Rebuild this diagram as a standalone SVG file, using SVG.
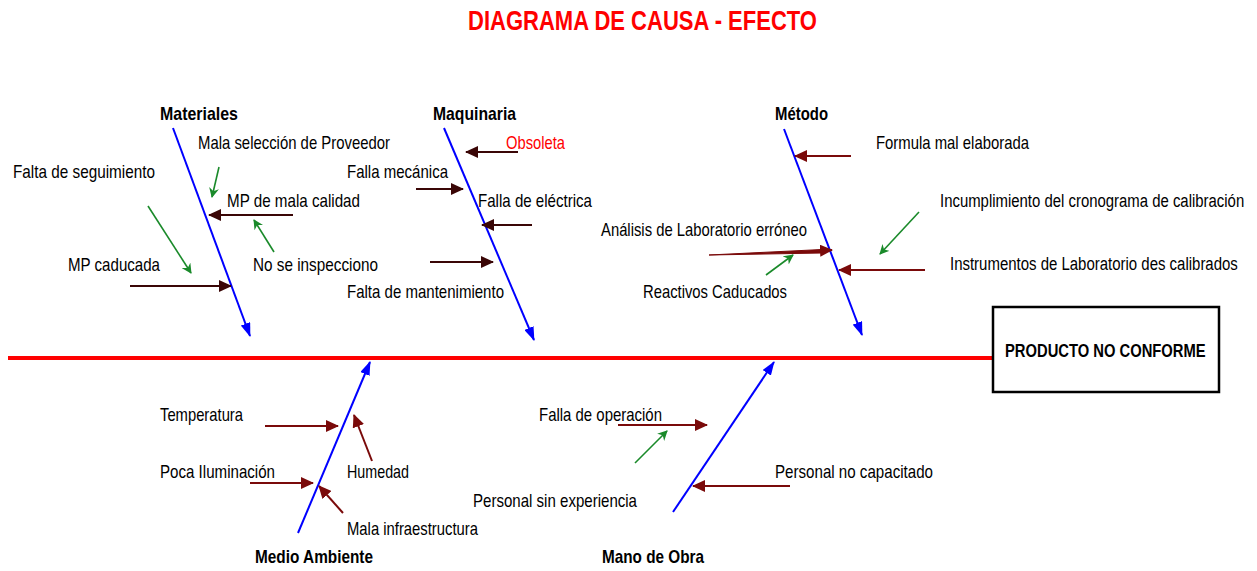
<svg xmlns="http://www.w3.org/2000/svg" width="1257" height="571" viewBox="0 0 1257 571">
<style>
text{font-family:"Liberation Sans",Arial,sans-serif;fill:#000}
.t{font-size:19px}
.b{font-size:19px;font-weight:bold}
.title{font-size:28px;font-weight:bold;fill:#ff0000}
.bone{stroke:#0000ff;stroke-width:2;fill:none;marker-end:url(#mb)}
.dk{stroke:#3a0606;stroke-width:2;fill:none;marker-end:url(#mk)}
.dr{stroke:#7a0a0a;stroke-width:2;fill:none;marker-end:url(#mr)}
.gr{stroke:#1a8a2a;stroke-width:1.6;fill:none;marker-end:url(#mg)}
</style>
<defs>
<marker id="mb" markerUnits="userSpaceOnUse" markerWidth="14" markerHeight="10" refX="13" refY="5" orient="auto"><path d="M0,0 L14,5 L0,10 z" fill="#0000ff"/></marker>
<marker id="mk" markerUnits="userSpaceOnUse" markerWidth="13" markerHeight="12" refX="12" refY="6" orient="auto"><path d="M0,0 L13,6 L0,12 z" fill="#3a0606"/></marker>
<marker id="mr" markerUnits="userSpaceOnUse" markerWidth="13" markerHeight="12" refX="12" refY="6" orient="auto"><path d="M0,0 L13,6 L0,12 z" fill="#7a0a0a"/></marker>
<marker id="mg" markerUnits="userSpaceOnUse" markerWidth="10" markerHeight="10" refX="9" refY="5" orient="auto"><path d="M0,0 L10,5 L0,10 L3,5 z" fill="#1a8a2a"/></marker>
</defs>
<rect width="1257" height="571" fill="#fff"/>
<text class="title" x="468" y="30" textLength="349" lengthAdjust="spacingAndGlyphs">DIAGRAMA DE CAUSA - EFECTO</text>

<g id="connectors">
<line x1="8" y1="358" x2="992" y2="358" stroke="#ff0000" stroke-width="4"/>
<line class="bone" x1="173" y1="128" x2="250" y2="336"/>
<line class="bone" x1="444" y1="128" x2="534" y2="340"/>
<line class="bone" x1="784" y1="129" x2="862" y2="335"/>
<line class="bone" x1="298" y1="533" x2="370" y2="362"/>
<line class="bone" x1="673" y1="512" x2="774" y2="362"/>
<line class="gr" x1="219" y1="167" x2="212" y2="197"/>
<line class="dk" x1="293" y1="215" x2="209" y2="215"/>
<line class="gr" x1="274" y1="252" x2="254" y2="220"/>
<line class="gr" x1="148" y1="206" x2="191" y2="273"/>
<line class="dk" x1="130" y1="286" x2="231" y2="286"/>
<line class="dk" x1="518" y1="152" x2="466" y2="152" stroke-width="3"/>
<line class="dk" x1="416" y1="189" x2="463" y2="189"/>
<line class="dk" x1="532" y1="225" x2="482" y2="225"/>
<line class="dk" x1="430" y1="262" x2="493" y2="262" stroke-width="3"/>
<line class="dr" x1="851" y1="156" x2="795" y2="156"/>
<line class="gr" x1="919" y1="212" x2="880" y2="254"/>
<path d="M709,255 L822,249.5 L822,253 Z" fill="#7a0a0a" stroke="#7a0a0a" stroke-width="1"/>
<line class="dr" x1="815" y1="251" x2="832" y2="250" stroke-width="3"/>
<line class="gr" x1="766" y1="275" x2="793" y2="255"/>
<line class="dr" x1="925" y1="270" x2="839" y2="270" stroke-width="3"/>
<line class="dr" x1="265" y1="426" x2="338" y2="426"/>
<line class="dr" x1="372" y1="461" x2="354" y2="415"/>
<line class="dr" x1="250" y1="483" x2="313" y2="483"/>
<line class="dr" x1="343" y1="513" x2="319" y2="486"/>
<line class="dr" x1="618" y1="425" x2="707" y2="425"/>
<line class="gr" x1="635" y1="463" x2="667" y2="431"/>
<line class="dr" x1="790" y1="486" x2="693" y2="486"/>
</g>

<g id="effect">
<rect x="993" y="307" width="226" height="85" fill="#fff" stroke="#000" stroke-width="2.5"/>
<text class="b" transform="translate(1005,357) scale(0.76,1)" textLength="264" lengthAdjust="spacingAndGlyphs">PRODUCTO NO CONFORME</text>
</g>

<g id="materiales">
<text class="b" x="160" y="120" textLength="78" lengthAdjust="spacingAndGlyphs">Materiales</text>
<text class="t" x="198" y="149" textLength="192" lengthAdjust="spacingAndGlyphs">Mala selección de Proveedor</text>
<text class="t" x="13" y="178" textLength="142" lengthAdjust="spacingAndGlyphs">Falta de seguimiento</text>
<text class="t" x="227" y="207" textLength="133" lengthAdjust="spacingAndGlyphs">MP de mala calidad</text>
<text class="t" x="68" y="271" textLength="92" lengthAdjust="spacingAndGlyphs">MP caducada</text>
<text class="t" x="253" y="271" textLength="125" lengthAdjust="spacingAndGlyphs">No se inspecciono</text>
</g>

<g id="maquinaria">
<text class="b" x="433" y="120" textLength="83" lengthAdjust="spacingAndGlyphs">Maquinaria</text>
<text class="t" x="506" y="149" textLength="59" lengthAdjust="spacingAndGlyphs" style="fill:#ff0000">Obsoleta</text>
<text class="t" x="347" y="178" textLength="101" lengthAdjust="spacingAndGlyphs">Falla mecánica</text>
<text class="t" x="478" y="207" textLength="114" lengthAdjust="spacingAndGlyphs">Falla de eléctrica</text>
<text class="t" x="347" y="298" textLength="157" lengthAdjust="spacingAndGlyphs">Falta de mantenimiento</text>
</g>

<g id="metodo">
<text class="b" x="775" y="120" textLength="53" lengthAdjust="spacingAndGlyphs">Método</text>
<text class="t" x="876" y="149" textLength="153" lengthAdjust="spacingAndGlyphs">Formula mal elaborada</text>
<text class="t" transform="translate(940,207) scale(0.78,1)" textLength="390" lengthAdjust="spacingAndGlyphs">Incumplimiento del cronograma de calibración</text>
<text class="t" x="601" y="236" textLength="206" lengthAdjust="spacingAndGlyphs">Análisis de Laboratorio erróneo</text>
<text class="t" transform="translate(950,270) scale(0.78,1)" textLength="369" lengthAdjust="spacingAndGlyphs">Instrumentos de Laboratorio des calibrados</text>
<text class="t" x="643" y="298" textLength="144" lengthAdjust="spacingAndGlyphs">Reactivos Caducados</text>
</g>

<g id="medio-ambiente">
<text class="t" x="160" y="421" textLength="83" lengthAdjust="spacingAndGlyphs">Temperatura</text>
<text class="t" x="347" y="478" textLength="62" lengthAdjust="spacingAndGlyphs">Humedad</text>
<text class="t" x="160" y="478" textLength="115" lengthAdjust="spacingAndGlyphs">Poca Iluminación</text>
<text class="t" x="347" y="535" textLength="131" lengthAdjust="spacingAndGlyphs">Mala infraestructura</text>
<text class="b" x="255" y="563" textLength="118" lengthAdjust="spacingAndGlyphs">Medio Ambiente</text>
</g>

<g id="mano-de-obra">
<text class="t" x="539" y="421" textLength="123" lengthAdjust="spacingAndGlyphs">Falla de operación</text>
<text class="t" x="775" y="478" textLength="158" lengthAdjust="spacingAndGlyphs">Personal no capacitado</text>
<text class="t" x="473" y="507" textLength="164" lengthAdjust="spacingAndGlyphs">Personal sin experiencia</text>
<text class="b" x="602" y="563" textLength="102" lengthAdjust="spacingAndGlyphs">Mano de Obra</text>
</g>
</svg>
